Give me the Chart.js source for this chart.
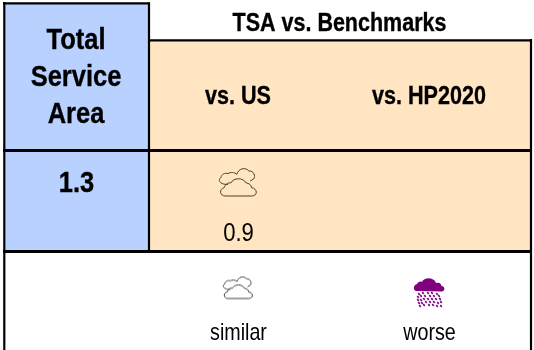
<!DOCTYPE html>
<html>
<head>
<meta charset="utf-8">
<script src="https://cdn.jsdelivr.net/npm/chart.js@4/dist/chart.umd.min.js"></script>
<style>html,body{margin:0;padding:0;background:#fff}canvas{display:block}</style>
</head>
<body>
<canvas id="c" width="534" height="350"></canvas>
<script>
const title = 'TSA vs. Benchmarks';
const areaLines = ['Total', 'Service', 'Area'];
const areaValue = '1.3';
const categories = ['vs. US', 'vs. HP2020'];
const rows = ['Total Service Area', 'Legend'];
const benchmarkCategories = ['vs. US'];
const benchmarkValues = ['0.9'];
const benchmarkIcons = ['similar'];
const legendCategories = ['vs. US', 'vs. HP2020'];
const legendLabels = ['similar', 'worse'];
const legendIcons = ['similar', 'worse'];

const FONT = '"Liberation Sans", Arial, sans-serif';
const BLUE = '#B9D1FF', PEACH = '#FFE5C2', PURPLE = '#800080';

function cloudOutline(g) {
  g.beginPath();
  g.moveTo(58, 72);
  g.bezierCurveTo(38, 74, 24, 62, 36, 52);
  g.bezierCurveTo(38, 42, 48, 36, 58, 40);
  g.bezierCurveTo(64, 34, 78, 36, 84, 42);
  g.bezierCurveTo(88, 26, 108, 18, 120, 32);
  g.bezierCurveTo(134, 30, 142, 48, 134, 56);
  g.lineTo(124, 62);
  g.stroke();
  g.beginPath();
  g.moveTo(50, 107);
  g.bezierCurveTo(32, 107, 30, 86, 46, 82);
  g.bezierCurveTo(50, 70, 60, 66, 66, 68);
  g.bezierCurveTo(74, 52, 102, 50, 112, 68);
  g.bezierCurveTo(120, 68, 128, 74, 128, 82);
  g.bezierCurveTo(146, 84, 148, 107, 128, 107);
  g.closePath();
  g.stroke();
}

function similarIcon(scale, offsetY, color) {
  const w = 46, h = Math.ceil(2 * (Math.abs(offsetY) + 20));
  const cv = document.createElement('canvas');
  cv.width = w; cv.height = h;
  const g = cv.getContext('2d');
  g.translate(w / 2, h / 2 + offsetY);
  g.scale(scale, scale);
  g.translate(-87.5, -65);
  g.strokeStyle = color;
  g.lineWidth = 1 / scale;
  cloudOutline(g);
  return cv;
}

function worseIcon(offsetY) {
  const w = 40, h = Math.ceil(2 * (Math.abs(offsetY) + 19));
  const cv = document.createElement('canvas');
  cv.width = w; cv.height = h;
  const g = cv.getContext('2d');
  g.translate(w / 2, h / 2 + offsetY);
  g.fillStyle = PURPLE;
  g.beginPath();
  g.moveTo(-13, -2);
  g.bezierCurveTo(-16, -3, -16, -8, -12, -9);
  g.bezierCurveTo(-11, -11, -9, -12, -7, -11);
  g.bezierCurveTo(-5, -16, 5, -16, 7, -10);
  g.bezierCurveTo(11, -11, 12, -9, 12.5, -7);
  g.bezierCurveTo(16, -7, 16.5, -2, 13, -1.5);
  g.closePath();
  g.fill();
  g.strokeStyle = PURPLE;
  g.lineWidth = 1.7;
  const drops = [
    [-10,1],[-6,0],[-1,0],[3,0],[8,1],
    [-11,4],[-8,3],[-4,3],[1,3],[5,3],[10,3],
    [-11,7],[-8,7],[-5,6],[-1,6],[3,6],[7,6],[11,6],
    [-10,10],[-7,10],[-3,9],[1,9],[5,9],[9,10],[12,9],
    [-9,13],[-5,12],[0,12],[4,12],[8,13],[12,13]
  ];
  drops.forEach(d => {
    g.beginPath();
    g.moveTo(d[0] - 0.7, d[1] - 0.9);
    g.lineTo(d[0] + 0.7, d[1] + 0.9);
    g.stroke();
  });
  return cv;
}

const benchIcon = {similar: () => similarIcon(1 / 3, -19.5, '#4a3c2c')};
const legIcon = {
  similar: () => similarIcon(0.262, -13, '#444444'),
  worse: () => worseIcon(-7.5)
};

function text(ctx, str, x, y, size, bold, sx) {
  ctx.save();
  ctx.translate(x, y);
  ctx.scale(sx, 1);
  ctx.font = (bold ? 'bold ' : '') + size + 'px ' + FONT;
  ctx.fillStyle = '#000';
  ctx.textAlign = 'center';
  ctx.textBaseline = 'alphabetic';
  ctx.fillText(str, 0, 0);
  if (bold) {
    ctx.strokeStyle = '#000';
    ctx.lineWidth = 0.35;
    ctx.strokeText(str, 0, 0);
  }
  ctx.restore();
}

const tablePlugin = {
  id: 'table',
  beforeDatasetsDraw(chart) {
    const ctx = chart.ctx;
    ctx.save();
    ctx.fillStyle = BLUE;
    ctx.fillRect(4, 3, 145, 249);
    ctx.fillStyle = PEACH;
    ctx.fillRect(149, 40, 382, 212);
    ctx.strokeStyle = '#000';
    const seg = (a, b, c, d) => { ctx.beginPath(); ctx.moveTo(a, b); ctx.lineTo(c, d); ctx.stroke(); };
    ctx.lineWidth = 2.2;
    seg(4.3, 2, 4.3, 350);
    seg(531, 39, 531, 350);
    seg(3, 3.4, 150, 3.4);
    seg(149, 2.5, 149, 252);
    seg(149, 40.3, 532, 40.3);
    ctx.lineWidth = 3;
    seg(3, 150.5, 532, 150.5);
    seg(3, 251.5, 532, 251.5);
    ctx.restore();
  },
  afterDatasetsDraw(chart) {
    const ctx = chart.ctx, x = chart.scales.x, y = chart.scales.y;
    const S = 0.85;
    text(ctx, title, 339.5, 31, 25, true, 0.86);
    [49, 86, 123].forEach((b, i) => text(ctx, areaLines[i], 76, b, 30, true, S));
    text(ctx, areaValue, 76.5, 192, 30, true, S);
    categories.forEach(c => text(ctx, c, x.getPixelForValue(categories.indexOf(c)), 104, 26, true, 0.83));
    benchmarkCategories.forEach((c, i) => text(ctx, benchmarkValues[i], x.getPixelForValue(categories.indexOf(c)) + 0.5, y.getPixelForValue(0) + 39.5, 26, false, S));
    legendCategories.forEach((c, i) => text(ctx, legendLabels[i], x.getPixelForValue(categories.indexOf(c)) + 0.5, y.getPixelForValue(1) + 39.5, 24, false, 0.82));
  }
};

new Chart(document.getElementById('c'), {
  type: 'scatter',
  data: {
    datasets: [
      {
        label: 'TSA vs. Benchmarks',
        data: benchmarkCategories.map(c => ({x: c, y: rows[0]})),
        pointStyle: benchmarkIcons.map(k => benchIcon[k]()),
        clip: false
      },
      {
        label: 'Legend',
        data: legendCategories.map(c => ({x: c, y: rows[1]})),
        pointStyle: legendIcons.map(k => legIcon[k]()),
        clip: false
      }
    ]
  },
  options: {
    responsive: false,
    animation: false,
    layout: {autoPadding: false, padding: {left: 142.5, right: 9.5, top: 152, bottom: 0}},
    plugins: {legend: {display: false}, tooltip: {enabled: false}, title: {display: false}},
    scales: {
      x: {type: 'category', labels: categories, offset: true, display: false},
      y: {type: 'category', labels: rows, offset: true, display: false}
    }
  },
  plugins: [tablePlugin]
});
</script>
</body>
</html>
